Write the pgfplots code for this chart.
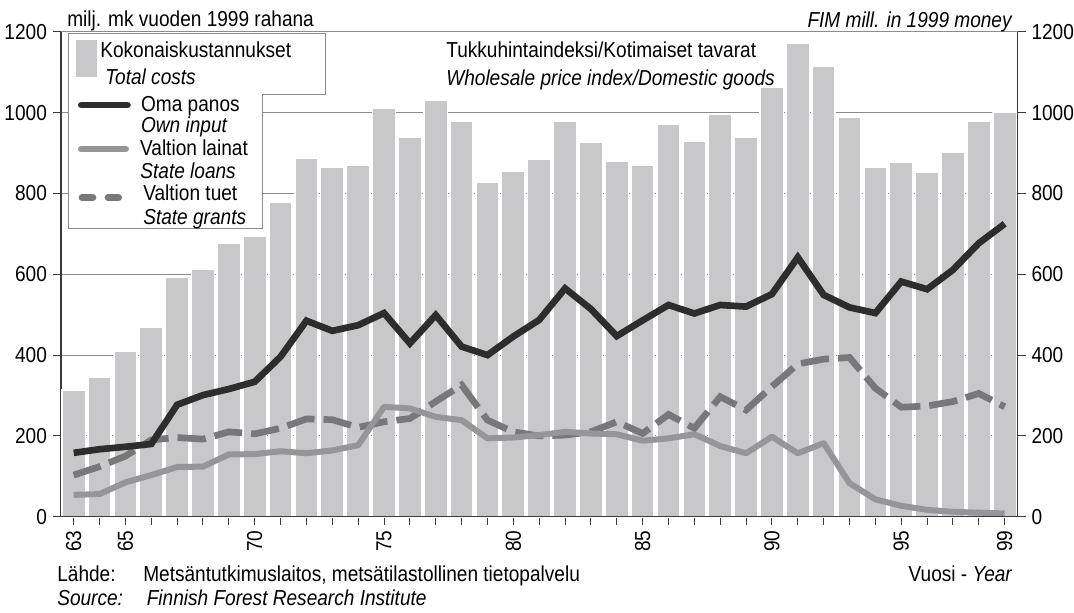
\documentclass[border=0pt]{standalone}
\usepackage{fontspec}
\setmainfont{Liberation Sans}[FakeStretch=0.88]
\usepackage{pgfplots}
\pgfplotsset{compat=1.18}
\usepackage{pgfplotstable}

\definecolor{barc}{HTML}{C8C8CA}
\definecolor{ownc}{HTML}{2D2D2D}
\definecolor{loanc}{HTML}{96969A}
\definecolor{grantc}{HTML}{78787B}
\definecolor{gridc}{HTML}{8C8C8C}
\definecolor{axc}{HTML}{3A3A3A}

\pgfplotstableread{
year total own loans grants
63 313 158 54 103
64 346 167 56 124
65 410 173 85 150
66 469 180 103 190
67 593 277 123 196
68 612 301 124 192
69 678 316 154 210
70 694 334 155 205
71 779 396 162 219
72 887 485 157 242
73 865 460 164 240
74 871 474 177 221
75 1010 504 272 235
76 940 429 268 243
77 1032 499 247 285
78 980 421 239 326
79 829 400 194 239
80 856 446 196 210
81 886 487 202 200
82 978 565 210 202
83 927 514 206 210
84 879 447 204 235
85 871 486 188 206
86 971 524 194 253
87 930 503 204 219
88 996 524 175 297
89 940 520 157 264
90 1063 551 198 322
91 1172 642 157 378
92 1116 549 182 390
93 990 518 83 394
94 865 504 43 318
95 877 582 27 271
96 852 563 17 274
97 901 611 12 285
98 980 677 10 305
99 1002 725 8 272
}\data

\begin{document}
\begin{tikzpicture}[font=\fontsize{13}{15}\selectfont]
\path[use as bounding box] (-36.46pt,-57.18pt) rectangle (607.94pt,310.02pt);
\begin{axis}[
  at={(0,0)}, anchor=south west,
  scale only axis, width=574.1pt, height=290.9pt,
  xmin=62.5, xmax=99.5, ymin=0, ymax=1200,
  axis x line*=bottom, axis y line*=left,
  axis line style={draw=axc, line width=0.9pt},
  xtick={63,...,99},
  xticklabels={63,,65,,,,,70,,,,,75,,,,,80,,,,,85,,,,,90,,,,,95,,,,99},
  xticklabel style={rotate=90, anchor=east},
  ytick={0,200,...,1200},
  tick align=outside,
  major tick length=4.8pt,
  tick style={draw=axc, line width=0.6pt},
  tick label style={font=\fontsize{13}{15}\selectfont},
  ymajorgrids, grid style={draw=gridc, line width=0.6pt},
  /pgf/number format/1000 sep={},
  /pgf/number format/assume math mode=true,
  clip=false,
]
\addplot[ybar, bar width=0.9, fill=barc, draw=white, line width=0.96pt] table[x=year,y=total]{\data};
\addplot[grantc, line width=4pt, dash pattern=on 17pt off 5.4pt] table[x=year,y=grants]{\data};
\addplot[loanc, line width=3.6pt, line join=round] table[x=year,y=loans]{\data};
\addplot[ownc, line width=4pt, line join=miter] table[x=year,y=own]{\data};
\draw[axc, line width=0.9pt] (axis cs:62.5,0) -- (axis cs:99.5,0);
\end{axis}
\begin{axis}[
  at={(0,0)}, anchor=south west,
  scale only axis, width=574.1pt, height=290.9pt,
  xmin=62.5, xmax=99.5, ymin=0, ymax=1200,
  axis x line=none, axis y line*=right,
  axis line style={draw=axc, line width=0.9pt},
  ytick={0,200,...,1200},
  tick align=outside,
  major tick length=4.8pt,
  tick style={draw=axc, line width=0.6pt},
  tick label style={font=\fontsize{13}{15}\selectfont},
  /pgf/number format/1000 sep={},
  /pgf/number format/assume math mode=true,
]
\end{axis}
\begin{scope}[x=0.6pt, y=0.6pt]
\draw[gridc, fill=white, line width=0.6pt] (8.2,482.7) -- (265.2,482.7) -- (265.2,421.7) -- (202.2,421.7) -- (202.2,288.4) -- (8.2,288.4) -- cycle;
\fill[barc] (15.2,439.7) rectangle (36.7,476.7);
\draw[ownc, line width=4pt, line cap=round] (20.5,411.7) -- (66.7,411.7);
\draw[loanc, line width=3.6pt, line cap=round] (20.2,367.4) -- (65.2,367.4);
\draw[grantc, line width=4pt, line cap=round] (21.2,319) -- (32.2,319) (47.2,319) -- (57.9,319);
\node[anchor=base west, inner sep=0] at (39.2,458.7) {Kokonaiskustannukset};
\node[anchor=base west, inner sep=0] at (44.2,431.7) {\itshape Total costs};
\node[anchor=base west, inner sep=0] at (80,405) {Oma panos};
\node[anchor=base west, inner sep=0] at (80,384.2) {\itshape Own input};
\node[anchor=base west, inner sep=0] at (79,361.2) {Valtion lainat};
\node[anchor=base west, inner sep=0] at (79.3,338) {\itshape State loans};
\node[anchor=base west, inner sep=0] at (82.2,316.2) {Valtion tuet};
\node[anchor=base west, inner sep=0] at (82.2,292) {\itshape State grants};
\node[anchor=base west, inner sep=0] at (6.2,489.7) {milj. mk vuoden 1999 rahana};
\node[anchor=base east, inner sep=0] at (951.2,488.7) {\itshape FIM mill. in 1999 money};
\node[anchor=base west, inner sep=0] at (385.2,458.7) {Tukkuhintaindeksi/Kotimaiset tavarat};
\node[anchor=base west, inner sep=0] at (385.2,430.7) {\itshape Wholesale price index/Domestic goods};
\node[anchor=base west, inner sep=0] at (-3.8,-64.3) {Lähde:};
\node[anchor=base west, inner sep=0] at (82.2,-64.3) {Metsäntutkimuslaitos, metsätilastollinen tietopalvelu};
\node[anchor=base west, inner sep=0] at (-3.8,-88.3) {\itshape Source:};
\node[anchor=base west, inner sep=0] at (85.7,-88.3) {\itshape Finnish Forest Research Institute};
\node[anchor=base east, inner sep=0] at (952,-64.3) {Vuosi - \textit{Year}};
\end{scope}
\end{tikzpicture}
\end{document}
